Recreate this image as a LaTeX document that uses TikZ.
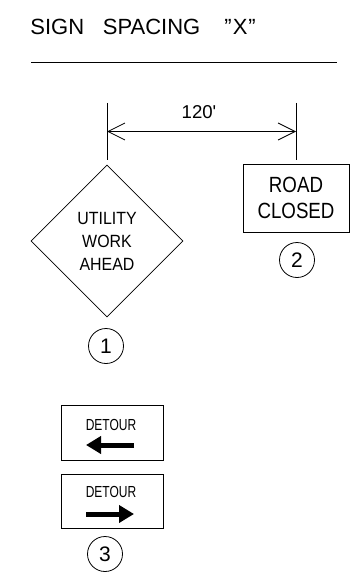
\documentclass[tikz,border=0pt]{standalone}
\usepackage{fontspec}
\setmainfont{Liberation Sans}
\newfontfamily\rawsans[Ligatures=TeXOff]{Liberation Sans}
\usetikzlibrary{arrows.meta,positioning,shapes.geometric}

\newcommand{\narrow}[2]{\scalebox{#1}[1]{#2}}

\tikzset{
  panel/.style={draw, inner sep=0pt, align=center},
  numring/.style={draw, circle, minimum size=35pt, inner sep=0pt, font=\fontsize{21}{21}\selectfont},
  bigarrow/.style={line width=5pt, -{Triangle[length=15pt,width=17pt]}},
  dimarrow/.style={{Straight Barb[length=17pt,width=17pt]}-{Straight Barb[length=17pt,width=17pt]}}
}

\begin{document}
\begin{tikzpicture}[x=1pt, y=-1pt, line width=0.8pt]
  \useasboundingbox (0,0) rectangle (359,583);
  % heading
  \node (title) [anchor=base west, inner sep=0pt, font=\fontsize{22}{24}\selectfont] at (30,35)
    {SIGN\hspace{0.85em}SPACING\hspace{1.1em}''\kern1pt X\kern1pt''};
  \coordinate (rulel) at (31,62.5);
  \coordinate (ruler) at (337,62.5);
  \draw[line width=1.2pt] (rulel) -- (ruler);

  % signs
  \node (sign1) [panel, diamond, minimum width=152pt, minimum height=152pt, font=\fontsize{17.7}{23}\selectfont] at (107,241)
    {\narrow{0.9}{UTILITY}\\\narrow{0.9}{WORK}\\\narrow{0.9}{AHEAD}};
  \node (sign2) [panel, minimum width=106pt, minimum height=68pt, font=\fontsize{22}{26.8}\selectfont] at (296,198)
    {\narrow{0.85}{ROAD}\\\narrow{0.85}{CLOSED}};
  \node (num1) [numring] at (106,346) {1};
  \node (num2) [numring] at (297,260) {2};

  % spacing dimension
  \coordinate (ext1t) at (107,103);
  \coordinate (ext1b) at (107,160);
  \coordinate (ext2t) at (296,103);
  \coordinate (ext2b) at (296,160);
  \coordinate (dima) at (107,131.5);
  \coordinate (dimb) at (296,131.5);
  \draw (ext1t) -- (ext1b);
  \draw (ext2t) -- (ext2b);
  \draw[dimarrow] (dima) -- (dimb);
  \node (dimtxt) [font=\rawsans\fontsize{18.6}{20}\selectfont] at (199,112) {120'};

  % detour signs
  \node (det1) [panel, minimum width=102pt, minimum height=55pt] at (112,432.5) {};
  \node (det1txt) [font=\fontsize{16}{18}\selectfont] at (111,425) {\narrow{0.75}{DETOUR}};
  \coordinate (arr1s) at (134,445);
  \coordinate (arr1e) at (86,445);
  \draw[bigarrow] (arr1s) -- (arr1e);

  \node (det2) [panel, minimum width=102pt, minimum height=54pt] at (112,501) {};
  \node (det2txt) [font=\fontsize{16}{18}\selectfont] at (111,492) {\narrow{0.75}{DETOUR}};
  \coordinate (arr2s) at (86,514);
  \coordinate (arr2e) at (134,514);
  \draw[bigarrow] (arr2s) -- (arr2e);

  \node (num3) [numring] at (105,554) {3};
\end{tikzpicture}
\end{document}
